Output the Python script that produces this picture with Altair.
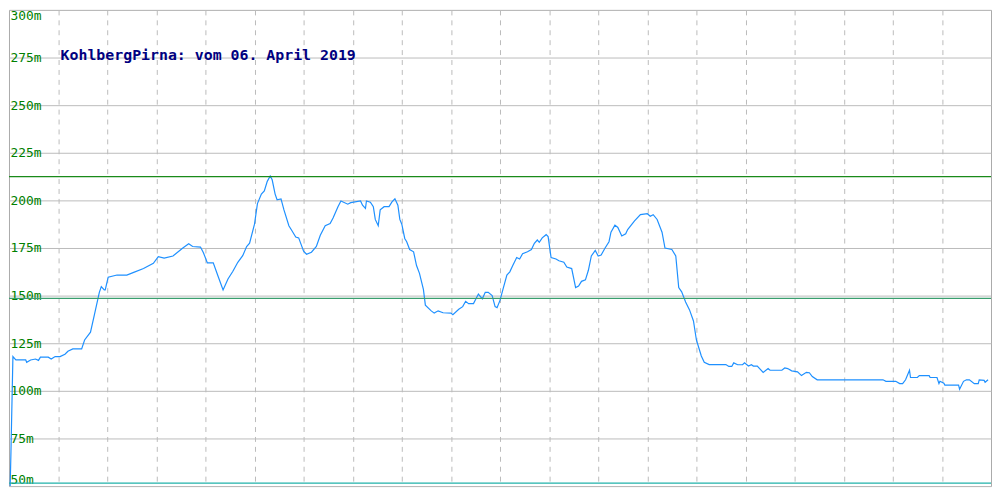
import altair as alt
import pandas as pd

title_text = "KohlbergPirna: vom 06. April 2019"

dist = [1, 2, 4, 7, 17, 18, 22, 27, 30, 32, 40, 43, 47, 52, 57, 60, 65, 74, 77, 83,
        87, 92, 94, 97, 98, 101, 110, 120, 127, 137, 147, 152, 158, 167, 177, 183, 187, 195, 198, 202,
        208, 213, 218, 223, 228, 233, 238, 242, 245, 250, 253, 257, 260, 263, 266, 268, 271, 273, 277, 280,
        285, 288, 292, 295, 300, 303, 308, 313, 317, 322, 327, 330, 335, 338, 345, 348, 358, 360, 363, 364,
        368, 371, 373, 376, 378, 382, 387, 390, 393, 396, 398, 400, 403, 405, 408, 412, 415, 418, 422, 424,
        430, 433, 437, 442, 450, 452, 458, 462, 465, 468, 473, 478, 482, 485, 488, 492, 495, 497, 500, 503,
        507, 510, 513, 517, 520, 523, 528, 532, 535, 538, 540, 543, 547, 549, 552, 557, 560, 565, 568, 573,
        577, 580, 583, 587, 590, 593, 597, 600, 603, 607, 611, 613, 617, 620, 624, 628, 630, 637, 643, 650,
        653, 656, 660, 665, 668, 675, 679, 682, 685, 689, 693, 697, 700, 705, 708, 713, 730, 733, 736, 738,
        742, 747, 749, 753, 756, 758, 762, 768, 773, 775, 787, 790, 793, 797, 803, 807, 812, 815, 818, 823,
        890, 893, 903, 907, 910, 913, 917, 918, 925, 927, 937, 938, 945, 947, 948, 952, 953, 967, 968, 972,
        975, 978, 983, 987, 988, 993, 994, 997]

elev = [45, 68, 118, 116.3, 116.3, 115, 116.2, 116.7, 116, 117.7, 117.7, 116.7, 118, 118, 119.2, 120.8, 122, 122, 126.7, 130.8,
        140, 151.7, 154.7, 153, 153, 159.7, 160.8, 160.8, 162.2, 164.2, 167, 170.5, 169.7, 170.8, 175, 177.2, 175.8, 175.5, 172.5, 167.2,
        167.2, 160, 153, 158.7, 162.8, 167.5, 171, 175.8, 177.5, 187.5, 198.3, 203.3, 205, 210, 212.8, 210.8, 203.3, 200.3, 200.8, 195,
        186.7, 184.2, 180.8, 180.3, 173.3, 171.7, 172.8, 175.8, 181.7, 186.7, 187.8, 190.8, 196.7, 199.7, 198, 198.8, 199.7, 197.5, 195.8, 199.7,
        199, 196.7, 190, 186.7, 195, 196.7, 196.7, 199.2, 200.8, 197.5, 190, 187.5, 180, 178.3, 174.2, 173, 165.8, 161.7, 153.3, 145,
        142, 140.8, 142, 141, 140.8, 140, 142.8, 144.2, 147, 145.8, 145.8, 150.8, 148.3, 151.7, 151.7, 150, 144.2, 143.7, 147.5, 153.3,
        160.8, 162.5, 165.8, 170, 169.2, 172, 173, 174.2, 177.5, 179.2, 178, 180.3, 182, 181, 170, 169.2, 168.3, 167.5, 165, 164.2,
        154.2, 155, 157.5, 158.3, 163.3, 170.8, 173.7, 170.8, 171.3, 175, 178.3, 183.3, 187, 185.8, 181.3, 182.5, 184.7, 189.2, 192.5, 193,
        191.7, 192.5, 190, 183.3, 175, 174.2, 170.8, 154.2, 152, 146.7, 142.5, 136.7, 126.7, 118.3, 115, 113.8, 113.8, 112.8, 112.8, 114.7,
        113.7, 113.7, 114.7, 113, 113.7, 113, 113, 109.7, 111.7, 110.8, 110.8, 112, 111.7, 110.5, 110, 108, 109.7, 109.5, 107.5, 105.8,
        105.8, 105, 105, 103.8, 103.8, 105.8, 110.8, 107, 107, 108, 108, 107, 107, 103.8, 105, 104, 103, 103, 100.8, 105,
        105.8, 105.8, 103.8, 103.8, 105.8, 105.5, 104.5, 105.8]

ref_values = [212.5, 148.5, 51.5]
ref_colors = ["#1a8a1a", "#3a9e6e", "#20b2aa"]

y_ticks = [50, 75, 100, 125, 150, 175, 200, 225, 250, 275, 300]
x_grid = list(range(50, 1000, 50))

df = pd.DataFrame({"dist": dist, "elev": elev})
df_ref = pd.DataFrame({"v": ref_values, "c": ref_colors})
df_title = pd.DataFrame({"t": [title_text]})

xscale = alt.Scale(domain=[0, 1000], nice=False, zero=False)
yscale = alt.Scale(domain=[50, 300], nice=False, zero=False)

xaxis = alt.Axis(values=x_grid, labels=False, ticks=False, domain=False, grid=True,
                 gridDash=[5, 5], gridColor="#bbbbbb", gridOpacity=1, title=None,
                 minExtent=0, maxExtent=0)
yaxis = alt.Axis(values=y_ticks, labelExpr="datum.value + 'm'", labelAlign="left",
                 labelPadding=-1, ticks=False, tickSize=0, domain=False, grid=True,
                 gridColor="#bbbbbb", gridOpacity=1, labelColor="#008000",
                 labelFont="DejaVu Sans Mono", labelFontSize=13, labelFlush=True,
                 title=None, minExtent=0, maxExtent=0)

line = alt.Chart(df).mark_line(color="#1e90ff", strokeWidth=1.2, clip=True).encode(
    x=alt.X("dist:Q", scale=xscale, axis=xaxis),
    y=alt.Y("elev:Q", scale=yscale, axis=yaxis),
)

rules = alt.Chart(df_ref).mark_rule(strokeWidth=1.2).encode(
    y=alt.Y("v:Q", scale=yscale),
    color=alt.Color("c:N", scale=None),
)

title = alt.Chart(df_title).mark_text(
    font="DejaVu Sans Mono", fontSize=15, fontWeight="bold", color="#000080",
    align="left", baseline="middle"
).encode(x=alt.value(52), y=alt.value(45), text="t:N")

chart = alt.layer(line, rules, title).properties(
    width=992, height=480, padding=0,
    autosize=alt.AutoSizeParams(type="fit", contains="padding"),
    background="white",
).configure_view(stroke="#aaaaaa", strokeWidth=1)

chart.save("out.html", embed_options={"renderer": "svg", "actions": False})
